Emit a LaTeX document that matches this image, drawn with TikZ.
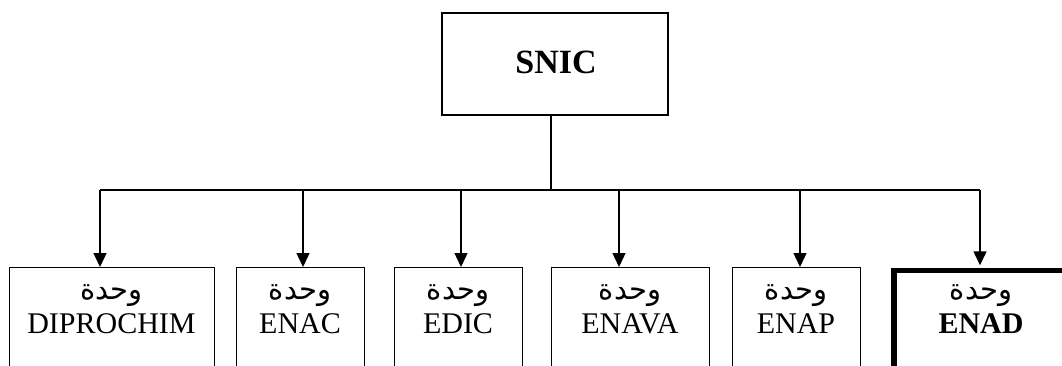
\documentclass[tikz,border=0pt]{standalone}
\usepackage{fontspec}
\setmainfont{Liberation Serif}
\newfontfamily\arabicfont[Script=Arabic]{DejaVu Sans}
\TeXXeTstate=1
\usetikzlibrary{arrows.meta,calc}
\tikzset{
  unitbox/.style={draw=black, line width=1.4pt, rectangle, inner sep=0pt, anchor=north west},
  bossbox/.style={draw=black, line width=1.4pt, rectangle, inner sep=0pt},
  thickbox/.style={draw=black, line width=5.5pt, rectangle, inner sep=0pt, anchor=north west},
  arlbl/.style={font=\fontsize{29}{34}\selectfont\arabicfont, anchor=base, inner sep=0pt},
  latlbl/.style={font=\fontsize{30}{34}\selectfont, anchor=base, inner sep=0pt},
  link/.style={draw=black, line width=1.4pt},
  arrowlink/.style={link, -{Triangle[length=14pt,width=13pt]}}
}
\begin{document}
\begin{tikzpicture}[x=1pt,y=-1pt]
\useasboundingbox (0,0) rectangle (1062,366);
\clip (0,0) rectangle (1062,366);
\fill[white] (0,0) rectangle (1062,366);
% top box
\node[bossbox, minimum width=226pt, minimum height=102pt] (snic) at (555,64) {};
\node[font=\fontsize{34}{40}\selectfont\bfseries, anchor=base, inner sep=0pt] (snict) at (556,74) {SNIC};
% unit boxes
\node[unitbox, minimum width=205pt, minimum height=150pt] (b1) at (9,267) {};
\node[unitbox, minimum width=128.5pt, minimum height=150pt] (b2) at (235.5,267) {};
\node[unitbox, minimum width=128pt, minimum height=150pt] (b3) at (394,267) {};
\node[unitbox, minimum width=158pt, minimum height=150pt] (b4) at (551,267) {};
\node[unitbox, minimum width=128pt, minimum height=150pt] (b5) at (732,267) {};
\node[thickbox, minimum width=180pt, minimum height=150pt] (b6) at (891,267.5) {};
% labels
\foreach \n/\x/\t in {1/111.5/DIPROCHIM, 2/300/ENAC, 3/458/EDIC, 4/630/ENAVA, 5/796/ENAP}{
  \node[arlbl] (ar\n) at (\x,299) {\beginR وحدة\endR};
  \node[latlbl] (la\n) at (\x,333) {\t};
}
\node[arlbl] (ar6) at (981,299) {\beginR وحدة\endR};
\node[latlbl, font=\fontsize{30}{34}\selectfont\bfseries] (la6) at (981,333) {ENAD};
% connectors
\coordinate (j) at (551,190);
\coordinate (c1) at (100,190);
\coordinate (c2) at (303,190);
\coordinate (c3) at (461,190);
\coordinate (c4) at (619,190);
\coordinate (c5) at (800,190);
\coordinate (c6) at (980,190);
\draw[link] (snic.south -| j) -- (j);
\draw[link] (c1) -- (c6);
\foreach \i in {1,...,5}{
  \draw[arrowlink] (c\i) -- (c\i |- b\i.north);
}
\draw[arrowlink] (c6) -- ($(c6 |- b6.north)+(0,-2.2)$);
\end{tikzpicture}
\end{document}
